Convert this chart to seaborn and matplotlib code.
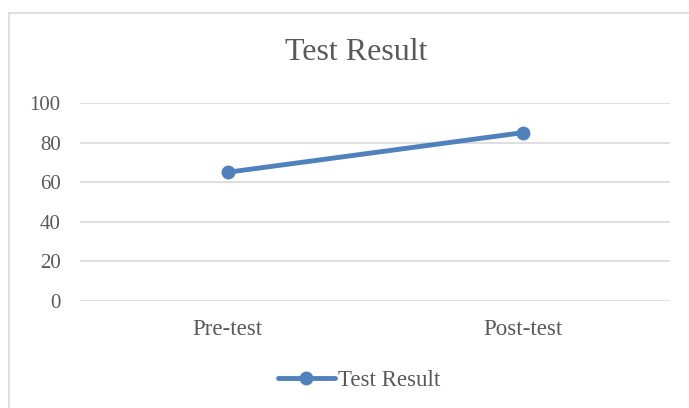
import matplotlib
matplotlib.use("Agg")
import matplotlib.pyplot as plt
from matplotlib.patches import Rectangle
import seaborn as sns
import pandas as pd

# data
categories = ["Pre-test", "Post-test"]
scores = [65, 85]
series_name = "Test Result"
y_ticks = [0, 20, 40, 60, 80, 100]

sns.set_theme(style="white")
plt.rcParams['font.family'] = ['Liberation Serif', 'DejaVu Serif']

text_col = "#595959"
line_col = "#4F81BD"
grid_col = "#D9D9D9"

df = pd.DataFrame({"stage": categories, "score": scores, "series": series_name})

fig = plt.figure(figsize=(6.89, 4.08), dpi=100)
ax = fig.add_axes([80/689, 1-301/408, 590/689, 198/408])

sns.lineplot(data=df, x="stage", y="score", hue="series", palette=[line_col],
             marker="o", markersize=10, markeredgewidth=0, linewidth=3.5,
             ax=ax, sort=False)

ax.set_xlim(-0.5, 1.5)
ax.set_ylim(0, 100)
ax.set_yticks(y_ticks)
ax.yaxis.grid(True, color=grid_col, linewidth=1.2)
ax.set_axisbelow(True)
for s in ax.spines.values():
    s.set_visible(False)
ax.tick_params(axis='both', length=0, colors=text_col, labelsize=15)
ax.tick_params(axis='y', pad=14)
ax.tick_params(axis='x', pad=13)
ax.set_xlabel("")
ax.set_ylabel("")
for lbl in ax.get_xticklabels():
    lbl.set_fontsize(16.5)

fig.text(356/689, 1-52/408, "Test Result", ha="center", va="center",
         fontsize=23, color=text_col)

leg = ax.legend(loc="center", bbox_to_anchor=(359/689, 1-380/408),
                bbox_transform=fig.transFigure, frameon=False, fontsize=16.5,
                handlelength=2.5, handletextpad=0.15, labelcolor=text_col)

# outer chart frame (runs off right and bottom edges)
fig.patches.append(Rectangle((9/689, -0.1), 1.2, 1 - 13/408 + 0.1, fill=False,
                             edgecolor=grid_col, linewidth=1.2,
                             transform=fig.transFigure, figure=fig))

fig.savefig("out.png", dpi=100)
